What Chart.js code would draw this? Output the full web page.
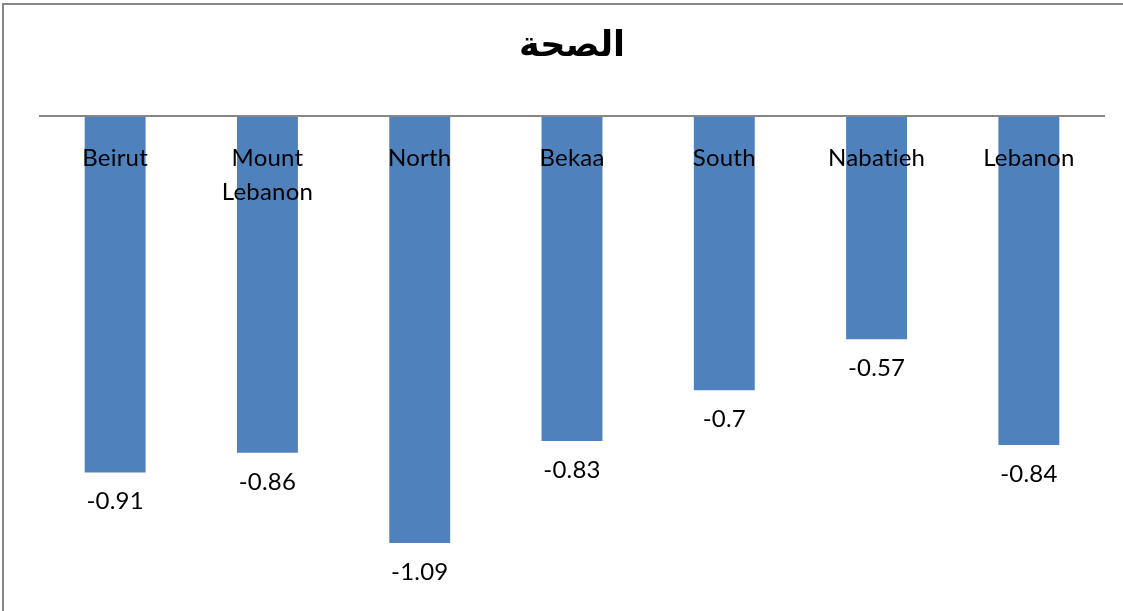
<!DOCTYPE html>
<html>
<head>
<meta charset="utf-8">
<script src="https://cdn.jsdelivr.net/npm/chart.js@4.4.1/dist/chart.umd.min.js"></script>
<style>
  html, body { margin: 0; padding: 0; background: #ffffff; }
  #wrap { position: relative; width: 1123px; height: 611px; overflow: hidden; }
  #frame { position: absolute; left: 2px; top: 3px; width: 1200px; height: 700px;
           border-left: 2px solid #868686; border-top: 2px solid #868686; pointer-events: none; }
  canvas { position: absolute; left: 0; top: 0; }
</style>
</head>
<body>
<div id="wrap">
  <canvas id="c" width="1123" height="611"></canvas>
  <div id="frame"></div>
</div>
<script>
const chartTitle = "الصحة";
const categories = [["Beirut"], ["Mount", "Lebanon"], ["North"], ["Bekaa"], ["South"], ["Nabatieh"], ["Lebanon"]];
const values = [-0.91, -0.86, -1.09, -0.83, -0.7, -0.57, -0.84];
const valueLabels = ["-0.91", "-0.86", "-1.09", "-0.83", "-0.7", "-0.57", "-0.84"];

const textFont = "Lato, 'Open Sans', 'DejaVu Sans', sans-serif";

const labelsPlugin = {
  id: 'customLabels',
  afterDatasetsDraw(chart) {
    const ctx = chart.ctx;
    const xs = chart.scales.x;
    const ys = chart.scales.y;
    const area = chart.chartArea;
    const zeroY = ys.getPixelForValue(0);
    ctx.save();
    // axis line at zero
    ctx.strokeStyle = '#868686';
    ctx.lineWidth = 2;
    ctx.beginPath();
    ctx.moveTo(area.left, zeroY);
    ctx.lineTo(area.right, zeroY);
    ctx.stroke();

    ctx.fillStyle = '#000000';
    ctx.font = "24px " + textFont;
    if ('letterSpacing' in ctx) ctx.letterSpacing = '0.2px';
    ctx.textAlign = 'center';
    ctx.textBaseline = 'middle';
    // category labels
    categories.forEach((lines, i) => {
      const x = xs.getPixelForValue(i);
      lines.forEach((t, j) => {
        ctx.fillText(t, x, zeroY + 42 + j * 34);
      });
    });
    // value labels
    const meta = chart.getDatasetMeta(0);
    meta.data.forEach((bar, i) => {
      ctx.fillText(valueLabels[i], bar.x, bar.y + 29);
    });
    ctx.restore();
  }
};

new Chart(document.getElementById('c'), {
  type: 'bar',
  data: {
    labels: categories.map(l => l.join(' ')),
    datasets: [{
      data: values,
      backgroundColor: '#4F81BD',
      borderWidth: 0,
      barPercentage: 0.4,
      categoryPercentage: 1.0
    }]
  },
  options: {
    responsive: false,
    animation: false,
    devicePixelRatio: 1,
    layout: { padding: { left: 39, right: 18, top: 20, bottom: 25 } },
    plugins: {
      legend: { display: false },
      tooltip: { enabled: false },
      title: {
        display: true,
        text: chartTitle,
        color: '#000000',
        font: { family: "'DejaVu Sans', 'Liberation Sans', sans-serif", size: 35, weight: 'bold', lineHeight: 1.2 },
        padding: { top: 6, bottom: 48 }
      }
    },
    scales: {
      x: { display: false },
      y: { display: false, min: -1.2, max: 0 }
    }
  },
  plugins: [labelsPlugin]
});
</script>
</body>
</html>
